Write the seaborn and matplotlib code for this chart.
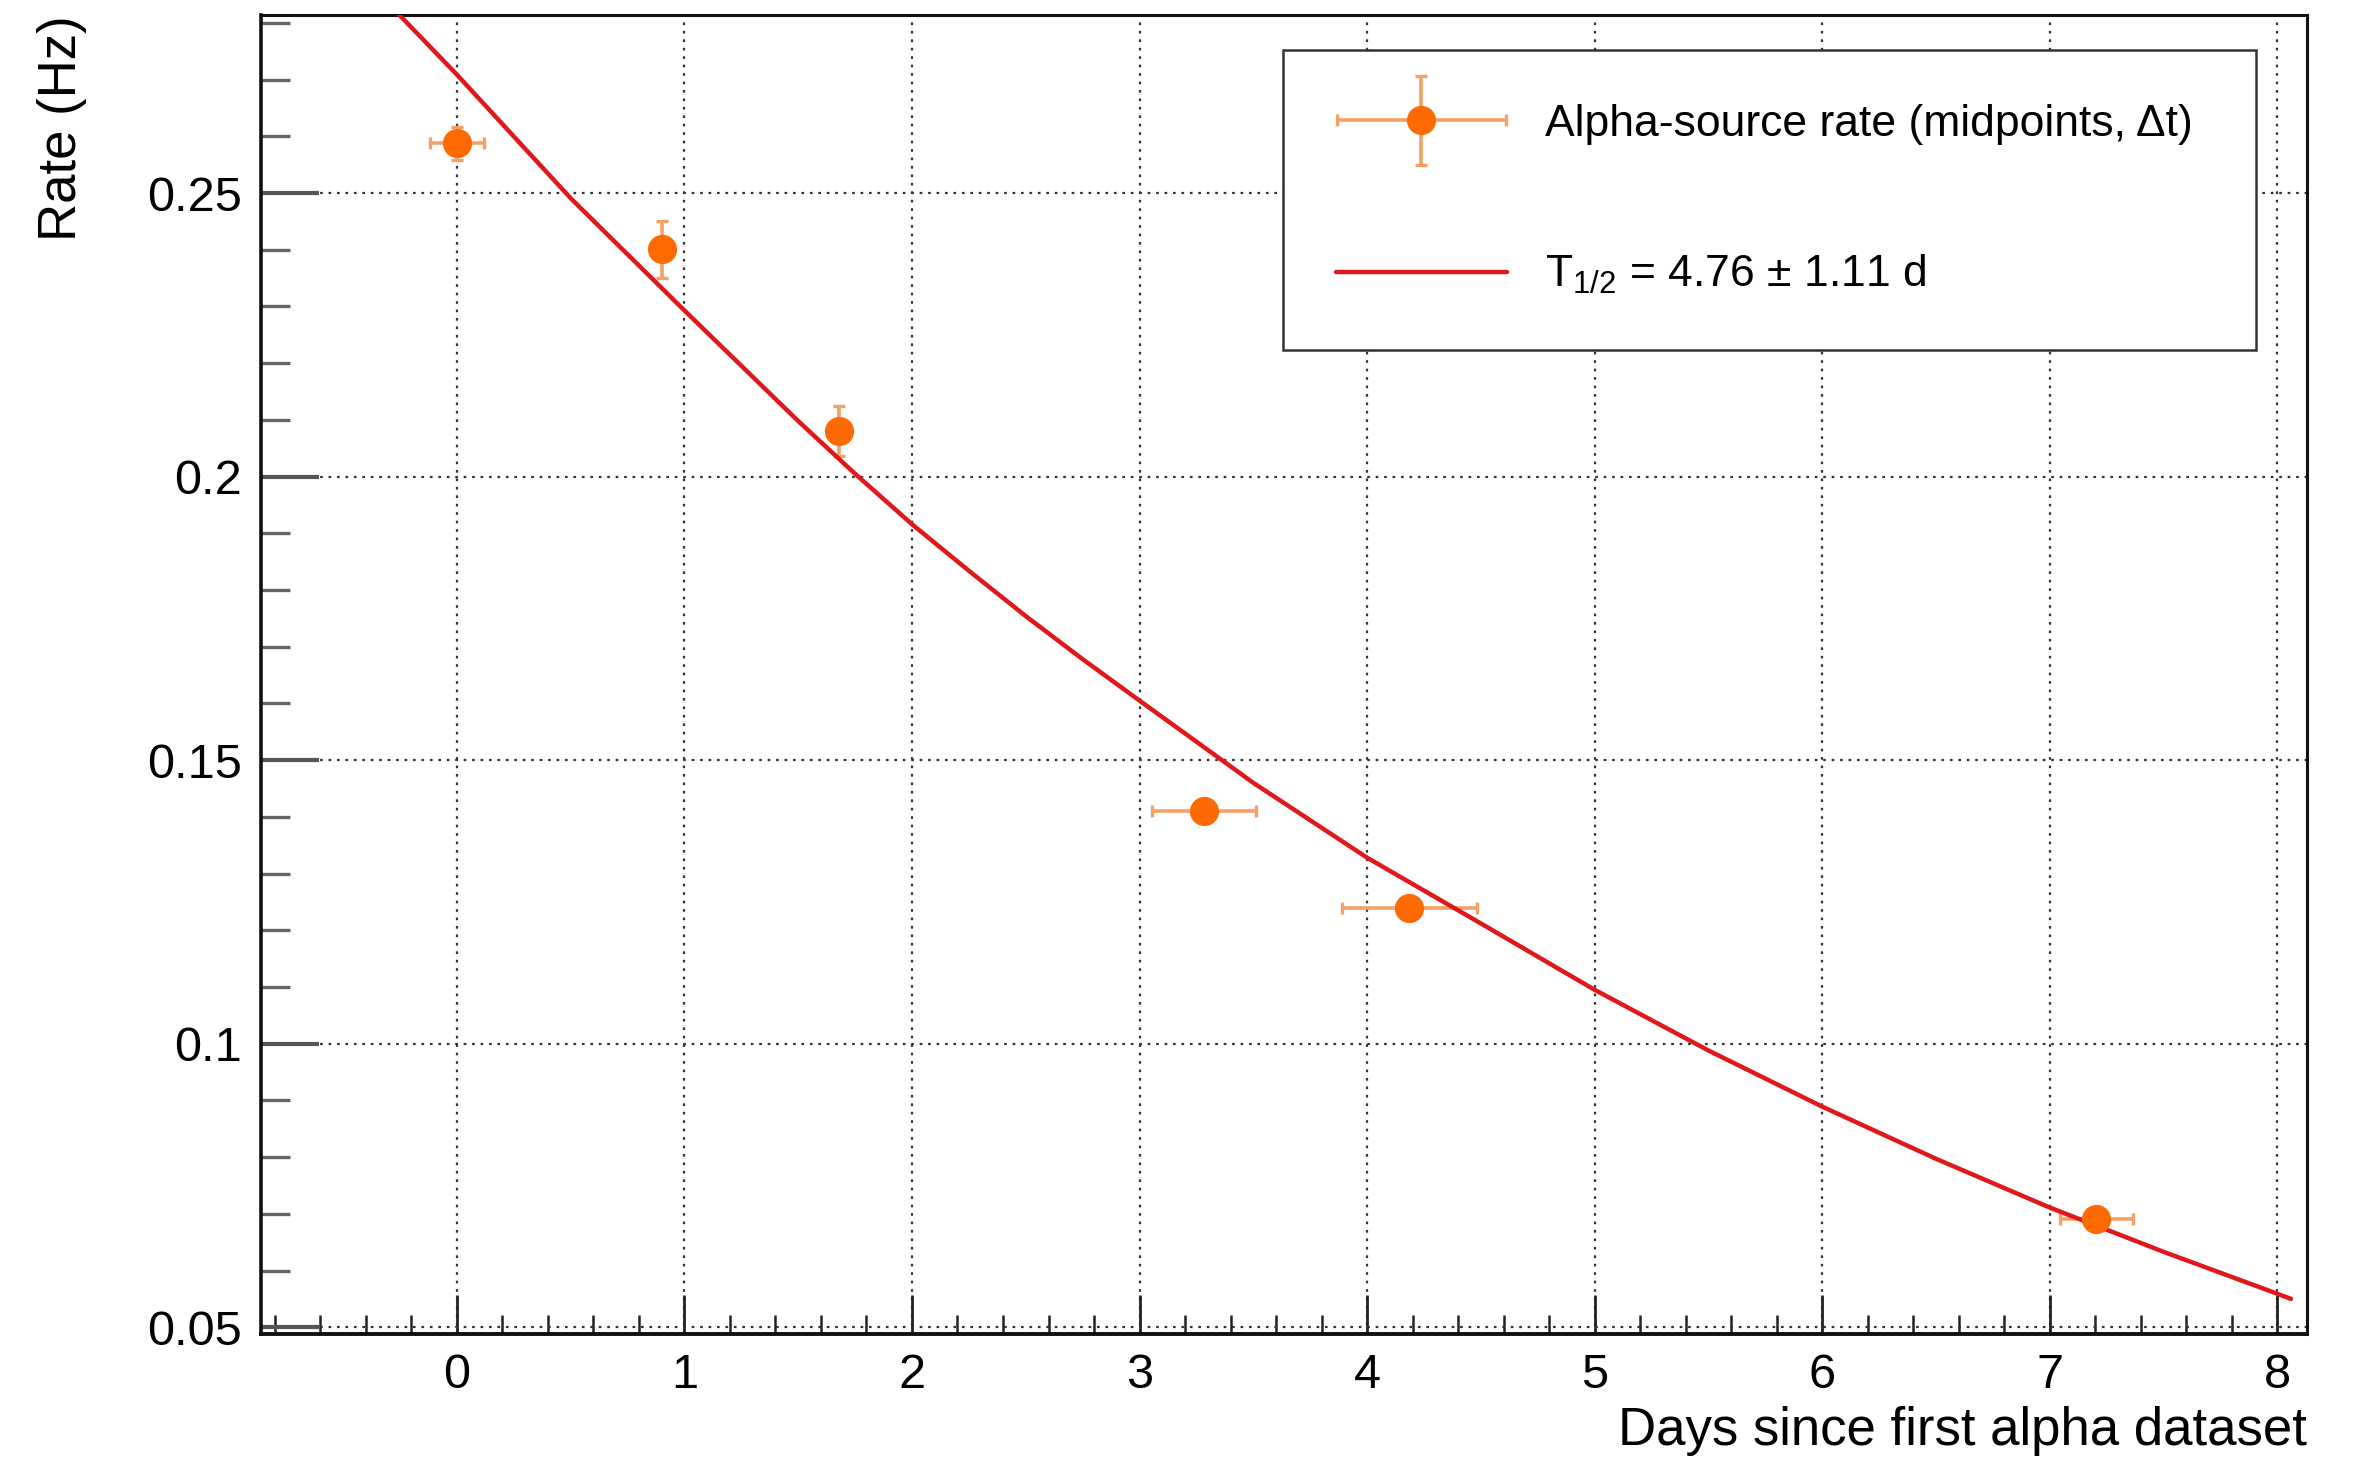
import matplotlib
matplotlib.use("Agg")
import matplotlib.pyplot as plt
import pandas as pd
import seaborn as sns
from matplotlib.ticker import MultipleLocator
from matplotlib.legend_handler import HandlerErrorbar

# --------------------------------------------
# DATA
# --------------------------------------------

# alpha-source rate at dataset midpoints
days = [0.0, 0.90, 1.678, 3.283, 4.186, 7.205]
rate = [0.2588, 0.2401, 0.2081, 0.1410, 0.1240, 0.0690]
days_err = [0.118, 0.03, 0.03, 0.228, 0.295, 0.16]
rate_err = [0.0029, 0.0050, 0.0044, 0.0015, 0.0015, 0.0010]

# fitted decay curve
fit_days = [-0.40, -0.25, 0.0, 0.5, 1.0, 1.5, 1.75, 2.0, 2.25, 2.5, 2.75,
            3.0, 3.5, 4.0, 4.5, 5.0, 5.5, 6.0, 6.5, 7.0, 7.5, 8.0, 8.06]
fit_rate = [0.2877, 0.2813, 0.2709, 0.2491, 0.2293, 0.2098, 0.2005, 0.1916,
            0.1834, 0.1754, 0.1678, 0.1605, 0.1460, 0.1328, 0.1212, 0.1095,
            0.0988, 0.0889, 0.0797, 0.0711, 0.0633, 0.0559, 0.0550]

point_label = "Alpha-source rate (midpoints, \u0394t)"
fit_label = "T$_{1/2}$ = 4.76 \u00b1 1.11 d"
x_label = "Days since first alpha dataset"
y_label = "Rate (Hz)"

fit_df = pd.DataFrame({"days": fit_days, "rate": fit_rate})

# --------------------------------------------
# STYLE
# --------------------------------------------

sns.set_theme(style="white")
plt.rcParams["font.family"] = ["Liberation Sans", "DejaVu Sans"]
plt.rcParams["mathtext.fontset"] = "custom"
plt.rcParams["mathtext.rm"] = "Liberation Sans"
plt.rcParams["mathtext.it"] = "Liberation Sans"
plt.rcParams["text.color"] = "black"
plt.rcParams["axes.labelcolor"] = "black"
plt.rcParams["xtick.color"] = "black"
plt.rcParams["ytick.color"] = "black"

orange = "#ff6a00"
light_orange = "#f5a066"
red = "#e0181c"

fig = plt.figure(figsize=(23.61, 14.57), dpi=100)
ax = fig.add_axes([0.1106, 0.0844, 0.8665, 0.9053])

# --------------------------------------------
# PLOT
# --------------------------------------------

pts = ax.errorbar(days, rate, xerr=days_err, yerr=rate_err, fmt="o",
                  color=orange, ms=20, ecolor=light_orange, elinewidth=2.6,
                  capsize=4, capthick=2.4, zorder=4, label=point_label)
for c in pts.lines[1]:
    c.set_zorder(2)
for c in pts.lines[2]:
    c.set_zorder(2)

sns.lineplot(data=fit_df, x="days", y="rate", color=red, linewidth=3.2,
             ax=ax, zorder=3, label=fit_label)

ax.set_xlim(-0.86, 8.13)
ax.set_ylim(0.0488, 0.2814)

ax.xaxis.set_major_locator(MultipleLocator(1))
ax.xaxis.set_minor_locator(MultipleLocator(0.2))
ax.yaxis.set_minor_locator(MultipleLocator(0.01))
ax.set_yticks([0.05, 0.1, 0.15, 0.2, 0.25])
ax.set_yticklabels(["0.05", "0.1", "0.15", "0.2", "0.25"])

ax.tick_params(bottom=True, left=True, top=False, right=False, which="both")
ax.tick_params(axis="x", which="major", direction="in", length=28, width=2,
               color="#222222", labelsize=35, pad=14)
ax.tick_params(axis="x", which="minor", direction="in", length=14, width=1.8,
               color="#222222")
ax.tick_params(axis="y", which="major", direction="in", length=42, width=3,
               color="#555555", labelsize=35, pad=14)
ax.tick_params(axis="y", which="minor", direction="in", length=21, width=2.4,
               color="#666666")

ax.grid(True, which="major", color="#333333", linestyle=(0, (1.2, 2.6)),
        linewidth=1.6)
ax.set_axisbelow(True)

for side in ["left", "bottom", "top", "right"]:
    ax.spines[side].set_color("#111111")
    ax.spines[side].set_linewidth(2.2)
ax.spines["bottom"].set_linewidth(2.8)
ax.spines["left"].set_linewidth(2.6)

ax.set_xlabel(x_label, fontsize=38, loc="right")
ax.xaxis.set_label_coords(1.0, -0.0735)
ax.xaxis.label.set_va("center")
ax.set_ylabel(y_label, fontsize=38, loc="top")
ax.yaxis.set_label_coords(-0.0973, 1.0)
ax.yaxis.label.set_va("center")

# --------------------------------------------
# LEGEND
# --------------------------------------------

handles, labels = ax.get_legend_handles_labels()
order = [labels.index(point_label), labels.index(fit_label)]
leg = ax.legend([handles[i] for i in order], [labels[i] for i in order],
                loc="upper left",
                bbox_to_anchor=(0.4993, 0.7498, 0.4757, 0.2237),
                mode="expand", borderaxespad=0, fontsize=32,
                handlelength=3.83, handletextpad=0.86, labelspacing=2.44,
                borderpad=1.21, fancybox=False, shadow=False, framealpha=1,
                handler_map={type(pts): HandlerErrorbar(xerr_size=1.91,
                                                         yerr_size=1.0)})
leg.get_frame().set_edgecolor("#333333")
leg.get_frame().set_linewidth(1.8)

fig.savefig("out.png", dpi=100)
